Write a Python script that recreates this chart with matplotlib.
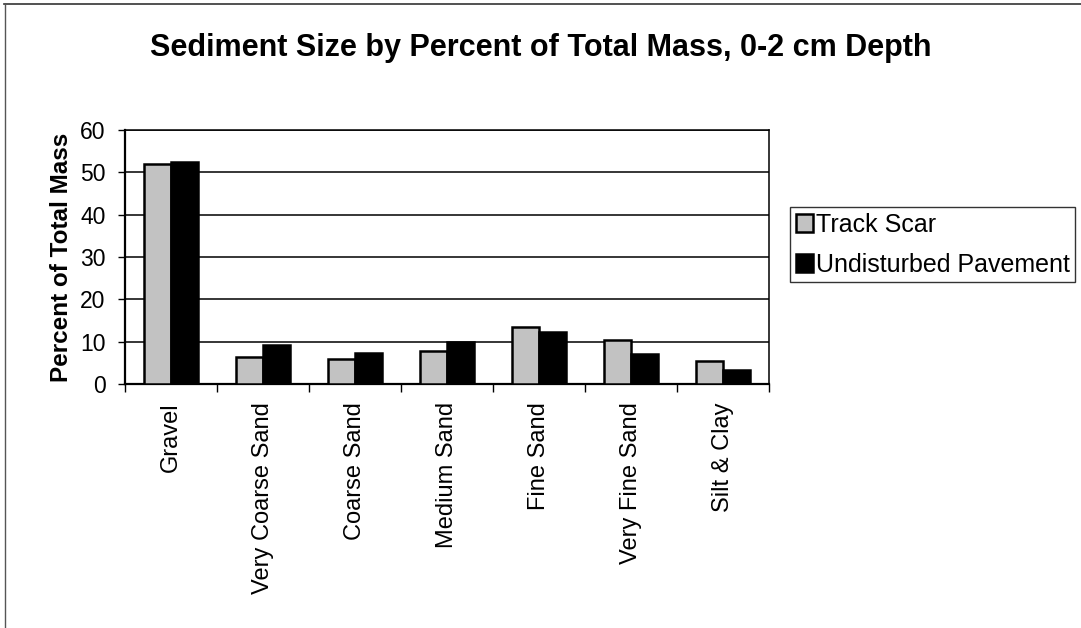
import matplotlib
matplotlib.use("Agg")
import matplotlib.pyplot as plt
import numpy as np
from matplotlib.lines import Line2D

categories = ["Gravel", "Very Coarse Sand", "Coarse Sand", "Medium Sand",
              "Fine Sand", "Very Fine Sand", "Silt & Clay"]
track_scar = [51.9, 6.3, 5.9, 7.9, 13.4, 10.3, 5.5]
undisturbed = [52.5, 9.3, 7.3, 10.0, 12.2, 7.1, 3.3]
y_ticks = [0, 10, 20, 30, 40, 50, 60]

plt.rcParams['font.family'] = ['Liberation Sans', 'DejaVu Sans']

fig = plt.figure(figsize=(10.81, 6.28), dpi=100)
ax = fig.add_axes([125 / 1081, 1 - 384 / 628, 644 / 1081, 254 / 628])

x = np.arange(len(categories))
w = 0.29
ax.bar(x - w / 2, track_scar, w, color='#c2c2c2', edgecolor='black',
       linewidth=1.8, label='Track Scar', zorder=3)
ax.bar(x + w / 2, undisturbed, w, color='black', edgecolor='black',
       linewidth=1.8, label='Undisturbed Pavement', zorder=3)

ax.set_xlim(-0.5, len(categories) - 0.5)
ax.set_ylim(0, 60)
ax.set_yticks(y_ticks)
ax.tick_params(axis='y', labelsize=16.5, length=5, width=1, direction='out', pad=9)
ax.yaxis.grid(True, color='black', linewidth=1.1)
ax.set_axisbelow(True)

ax.set_xticks(np.arange(len(categories) + 1) - 0.5)
ax.set_xticklabels([])
ax.tick_params(axis='x', length=6, width=1, direction='out')
ax.set_xticks(x, minor=True)
ax.set_xticklabels(categories, minor=True, rotation=90, fontsize=17, va='top')
ax.tick_params(axis='x', which='minor', length=0, pad=13)

for s in ax.spines.values():
    s.set_color('black')
    s.set_linewidth(1.1)
ax.spines['left'].set_linewidth(1.6)
ax.spines['bottom'].set_linewidth(1.6)

ax.set_ylabel('Percent of Total Mass', fontsize=17.5, fontweight='bold', labelpad=5)

fig.text(0.5, 1 - 48 / 628, 'Sediment Size by Percent of Total Mass, 0-2 cm Depth',
         ha='center', va='center', fontsize=22, fontweight='bold')

leg = fig.legend(loc='upper left', bbox_to_anchor=(790 / 1081, 1 - 207 / 628),
                 fontsize=18, frameon=True, fancybox=False, shadow=False,
                 handlelength=0.7, handleheight=0.7, handletextpad=0.1,
                 borderpad=0.22, labelspacing=0.65, borderaxespad=0)
leg.get_frame().set_edgecolor('black')
leg.get_frame().set_linewidth(1)

# outer frame along top and left edges
fig.add_artist(Line2D([4 / 1081, 1], [1 - 4 / 628, 1 - 4 / 628],
                      transform=fig.transFigure, color='#333333', linewidth=1.2))
fig.add_artist(Line2D([5 / 1081, 5 / 1081], [0, 1 - 4 / 628],
                      transform=fig.transFigure, color='#555555', linewidth=1))

fig.savefig('out.png', dpi=100)
